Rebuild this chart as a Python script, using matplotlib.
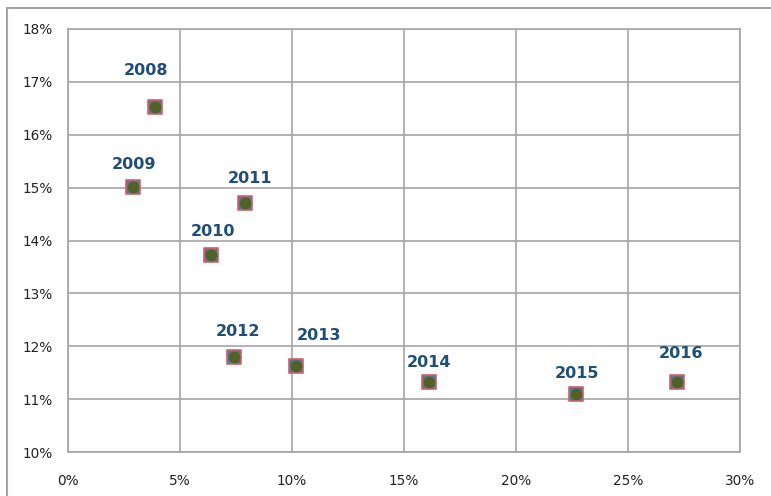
import matplotlib.pyplot as plt
from matplotlib.patches import Rectangle
from matplotlib.ticker import PercentFormatter

years = ['2008', '2009', '2010', '2011', '2012', '2013', '2014', '2015', '2016']
x_vals = [3.9, 2.9, 6.4, 7.9, 7.4, 10.2, 16.1, 22.7, 27.2]
y_vals = [16.53, 15.02, 13.73, 14.71, 11.80, 11.62, 11.32, 11.10, 11.32]

# label offsets in pixels (dx, dy) from each point
offsets = [(-9, 36), (1, 22), (2, 23), (5, 24), (4, 25), (23, 31), (0, 20), (1, 20), (4, 29)]

fig = plt.figure(figsize=(7.71, 4.96), dpi=100)
ax = fig.add_axes([68 / 771, 1 - 452 / 496, (740 - 68) / 771, (452 - 29) / 496])

grid_col = '#A6A6A6'
ax.scatter(x_vals, y_vals, marker='s', s=110, facecolor='#5B7590', edgecolor='#D0606A',
           linewidth=1.2, zorder=3)
ax.scatter(x_vals, y_vals, marker='o', s=55, color='#4F6228', zorder=4)

for yr, xv, yv, (dx, dy) in zip(years, x_vals, y_vals, offsets):
    ax.annotate(yr, (xv, yv), xytext=(dx, dy), textcoords='offset pixels',
                ha='center', va='center', fontsize=11.5, fontweight='bold',
                color='#1F4E79', zorder=5)

ax.set_xlim(0, 30)
ax.set_ylim(10, 18)
ax.set_xticks(range(0, 31, 5))
ax.set_yticks(range(10, 19))
ax.xaxis.set_major_formatter(PercentFormatter(decimals=0))
ax.yaxis.set_major_formatter(PercentFormatter(decimals=0))
ax.grid(True, color=grid_col, linewidth=1.2)
ax.set_axisbelow(True)
for sp in ax.spines.values():
    sp.set_color(grid_col)
    sp.set_linewidth(1.2)
ax.tick_params(length=0, labelsize=9.8, colors='#222222')
ax.tick_params(axis='x', pad=16)
ax.tick_params(axis='y', pad=11)

# outer chart-area frame, open on the right and bottom
fig.patches.append(Rectangle((7 / 771, -0.1), 1.2, 1.1 - 8 / 496,
                             transform=fig.transFigure, fill=False,
                             edgecolor=grid_col, linewidth=1.5))

fig.savefig('out.png', dpi=100)
